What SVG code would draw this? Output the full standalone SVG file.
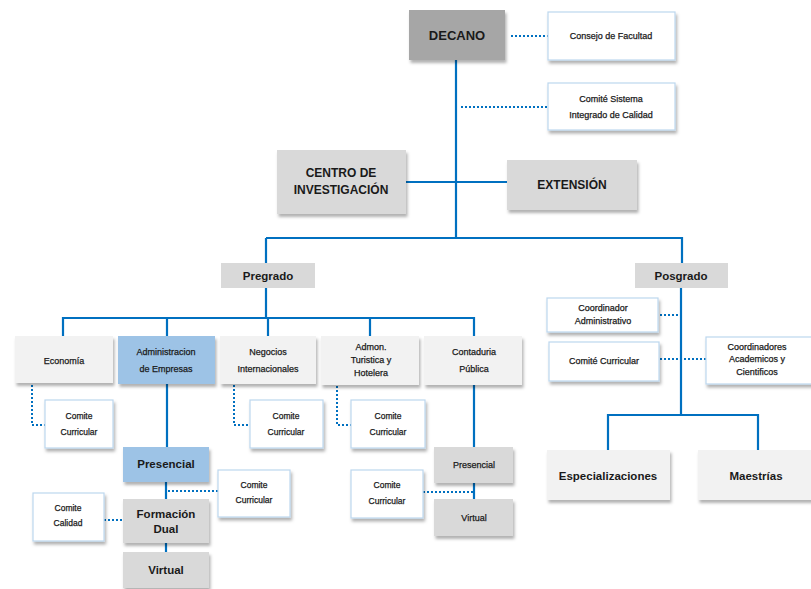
<svg xmlns="http://www.w3.org/2000/svg" width="811" height="589" viewBox="0 0 811 589">
<defs>
<filter id="sh" x="-10%" y="-10%" width="125%" height="135%">
<feDropShadow dx="1.5" dy="3" stdDeviation="1.5" flood-color="#000" flood-opacity="0.3"/>
</filter>
<style>
.dk{fill:#a6a6a6;filter:url(#sh)}
.gr{fill:#d9d9d9;filter:url(#sh)}
.lt{fill:#f2f2f2;filter:url(#sh)}
.bl{fill:#9dc3e6;filter:url(#sh)}
.wh{fill:#fff;stroke:#bdd7ee;stroke-width:1.2;filter:url(#sh)}
.pl{fill:#d9d9d9}
text{font-family:"Liberation Sans",Arial,sans-serif;fill:#1a1a1a;text-anchor:middle}
.b13{font-size:13px;font-weight:bold}
.b12{font-size:12px;font-weight:bold}
.b11{font-size:11.5px;font-weight:bold}
.s9{font-size:9px;stroke:#1a1a1a;stroke-width:0.25}
.s8{font-size:8.5px;stroke:#1a1a1a;stroke-width:0.25}
.ln{fill:none;stroke:#0070c0;stroke-width:2.2}
.dt{fill:none;stroke:#0070c0;stroke-width:2;stroke-dasharray:2 2}
</style>
</defs>
<rect width="811" height="589" fill="#fff"/>
<g id="connectors">
<path class="ln" d="M456 60V238M406 182H507M266 238H682V263M266 238V263M266 288V318M63 336V318H474V336M167 318V336M268 318V336M370 318V336"/>
<path class="ln" d="M167 384V447M166 482V499M166 543V552M474 384V447M474 483V499"/>
<path class="ln" d="M681 288V415M608 450V415H758V450"/>
<path class="dt" d="M511 36H548M461 107H548"/>
<path class="dt" d="M32 385V425H45M234 385V425H250M337 386V425H351"/>
<path class="dt" d="M168 491H218M104 520H122M423 492H474"/>
<path class="dt" d="M660 315H680M660 359H706"/>
</g>
<g id="decano"><rect class="dk" x="409" y="10" width="96" height="50"/><text class="b13" x="457" y="40">DECANO</text></g>
<g id="consejo"><rect class="wh" x="548" y="12" width="127" height="48"/><text class="s9" x="611" y="39">Consejo de Facultad</text></g>
<g id="comite-sistema"><rect class="wh" x="548" y="83" width="127" height="47"/><text class="s9" x="611" y="102">Comité Sistema</text><text class="s9" x="611" y="118">Integrado de Calidad</text></g>
<g id="centro"><rect class="gr" x="277" y="150" width="129" height="64"/><text class="b12" x="341" y="177">CENTRO DE</text><text class="b12" x="341" y="194">INVESTIGACIÓN</text></g>
<g id="extension"><rect class="gr" x="507" y="160" width="130" height="50"/><text class="b12" x="572" y="189">EXTENSIÓN</text></g>
<g id="pregrado"><rect class="pl" x="221" y="263" width="94" height="25"/><text class="b11" x="268" y="280">Pregrado</text></g>
<g id="posgrado"><rect class="pl" x="635" y="263" width="93" height="25"/><text class="b11" x="681" y="280">Posgrado</text></g>
<g id="economia"><rect class="lt" x="15" y="336" width="98" height="47"/><text class="s9" x="64" y="364">Economía</text></g>
<g id="admin-empresas"><rect class="bl" x="118" y="336" width="97" height="48"/><text class="s9" x="166" y="355">Administracion</text><text class="s9" x="166" y="372">de Empresas</text></g>
<g id="negocios"><rect class="lt" x="220" y="336" width="96" height="48"/><text class="s9" x="268" y="355">Negocios</text><text class="s9" x="268" y="372">Internacionales</text></g>
<g id="admon"><rect class="lt" x="321" y="336" width="98" height="49"/><text class="s9" x="371" y="350">Admon.</text><text class="s9" x="371" y="363">Turistica y</text><text class="s9" x="371" y="376">Hotelera</text></g>
<g id="contaduria"><rect class="lt" x="424" y="336" width="98" height="49"/><text class="s9" x="474" y="355">Contaduria</text><text class="s9" x="474" y="372">Pública</text></g>
<g id="cc-economia"><rect class="wh" x="45" y="400" width="68" height="48"/><text class="s8" x="79" y="419">Comite</text><text class="s8" x="79" y="435">Curricular</text></g>
<g id="cc-negocios"><rect class="wh" x="250" y="400" width="73" height="48"/><text class="s8" x="286" y="419">Comite</text><text class="s8" x="286" y="435">Curricular</text></g>
<g id="cc-admon"><rect class="wh" x="351" y="400" width="74" height="48"/><text class="s8" x="388" y="419">Comite</text><text class="s8" x="388" y="435">Curricular</text></g>
<g id="presencial-ae"><rect class="bl" x="123" y="447" width="86" height="35"/><text class="b11" x="166" y="468">Presencial</text></g>
<g id="cc-ae"><rect class="wh" x="218" y="470" width="72" height="47"/><text class="s8" x="254" y="488">Comite</text><text class="s8" x="254" y="503">Curricular</text></g>
<g id="formacion-dual"><rect class="gr" x="123" y="499" width="86" height="44"/><text class="b11" x="166" y="518">Formación</text><text class="b11" x="166" y="533">Dual</text></g>
<g id="comite-calidad"><rect class="wh" x="33" y="493" width="71" height="48"/><text class="s8" x="68" y="511">Comite</text><text class="s8" x="68" y="526">Calidad</text></g>
<g id="virtual-ae"><rect class="gr" x="123" y="552" width="86" height="36"/><text class="b11" x="166" y="574">Virtual</text></g>
<g id="presencial-cp"><rect class="gr" x="434" y="447" width="79" height="36"/><text class="s9" x="474" y="468">Presencial</text></g>
<g id="virtual-cp"><rect class="gr" x="434" y="499" width="79" height="37"/><text class="s9" x="474" y="521">Virtual</text></g>
<g id="cc-cp"><rect class="wh" x="351" y="470" width="72" height="48"/><text class="s8" x="387" y="488">Comite</text><text class="s8" x="387" y="504">Curricular</text></g>
<g id="coord-admin"><rect class="wh" x="547" y="298" width="111" height="34"/><text class="s9" x="603" y="311">Coordinador</text><text class="s9" x="603" y="324">Administrativo</text></g>
<g id="comite-curricular-pos"><rect class="wh" x="549" y="342" width="110" height="39"/><text class="s9" x="604" y="364">Comité Curricular</text></g>
<g id="coord-academicos"><rect class="wh" x="706" y="337" width="110" height="47"/><text class="s9" x="757" y="350">Coordinadores</text><text class="s9" x="757" y="362">Academicos y</text><text class="s9" x="757" y="375">Cientificos</text></g>
<g id="especializaciones"><rect class="lt" x="547" y="450" width="123" height="50"/><text class="b11" x="608" y="480">Especializaciones</text></g>
<g id="maestrias"><rect class="lt" x="698" y="450" width="118" height="50"/><text class="b11" x="756" y="480">Maestrías</text></g>
</svg>
